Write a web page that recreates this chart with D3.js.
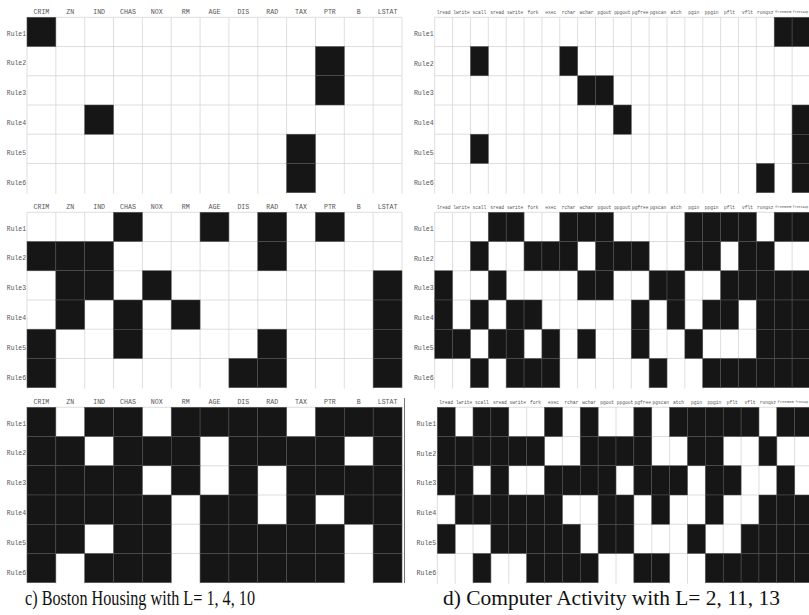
<!DOCTYPE html>
<html><head><meta charset="utf-8">
<script src="https://cdn.jsdelivr.net/npm/d3@7"></script>
<style>body{margin:0;background:#fff}svg{display:block}</style>
</head><body>
<svg id="c" width="809" height="615"></svg>
<script>
const bostonCols = ["CRIM","ZN","IND","CHAS","NOX","RM","AGE","DIS","RAD","TAX","PTR","B","LSTAT"];
const compCols = ["lread","lwrite","scall","sread","swrite","fork","exec","rchar","wchar","pgout","ppgout","pgfree","pgscan","atch","pgin","ppgin","pflt","vflt","runqsz","freemem","freeswap"];
const rules = ["Rule1","Rule2","Rule3","Rule4","Rule5","Rule6"];

const bostonL1 = ["1000000000000","0000000000100","0000000000100","0010000000000","0000000001000","0000000001000"];
const bostonL4 = ["0001001010100","1110000010000","0110100000001","0101010000001","1001000010001","1000000110001"];
const bostonL10 = ["1011011110111","1101110111101","1111010101111","1111101101011","1101101111101","1011101111101"];

const compL2 = ["000000000000000000011","001000010000000000000","000000001100000000000","000000000010000000001","001000000000000000001","000000000000000000101"];
const compL11 = ["000110011100001111011","001001110111001101100","100100001100110011111","101011000001010110111","110110101001001000111","001011100000100111111"];
const compL13 = ["101100101001011111011","111111001111001100100","110100111101110110010","011111100110100100111","100111110110001001111","001001111001100111111"];

const captions = ["c) Boston Housing with L= 1, 4, 10", "d) Computer Activity with L= 2, 11, 13"];

const svg = d3.select("#c");
const monoFont = "Liberation Mono, Courier New, monospace";
const W = 809;

function panel(cols, matrix, x0, y0, w, h, colFont, rowFont) {
  const g = svg.append("g");
  const x = d3.scaleBand().domain(d3.range(cols.length)).range([x0, x0 + w]);
  const y = d3.scaleBand().domain(d3.range(rules.length)).range([y0, y0 + h]);
  const bw = x.bandwidth();
  // grid
  g.selectAll("line.v").data(d3.range(cols.length + 1)).join("line")
    .attr("x1", i => x0 + i * bw).attr("x2", i => x0 + i * bw)
    .attr("y1", y0).attr("y2", y0 + h + 1)
    .attr("stroke", "#d6d6d6").attr("stroke-width", 0.8);
  g.selectAll("line.h").data(d3.range(rules.length)).join("line")
    .attr("x1", x0).attr("x2", Math.min(x0 + w, W))
    .attr("y1", i => y0 + i * y.bandwidth()).attr("y2", i => y0 + i * y.bandwidth())
    .attr("stroke", "#d6d6d6").attr("stroke-width", 0.8);
  // cells
  const cells = [];
  matrix.forEach((row, r) => row.split("").forEach((v, c) => { if (v === "1") cells.push({r, c}); }));
  g.selectAll("rect.cell").data(cells).join("rect")
    .attr("x", d => x(d.c)).attr("y", d => y(d.r))
    .attr("width", bw).attr("height", y.bandwidth())
    .attr("fill", "#161616").attr("stroke", "#555").attr("stroke-width", 0.5);
  // column labels (shrink font when label is wider than the visible cell)
  g.selectAll("text.col").data(cols).join("text")
    .attr("text-anchor", "middle").attr("dominant-baseline", "middle")
    .attr("font-family", monoFont)
    .attr("font-size", colFont).attr("fill", "#555").text(d => d)
    .each(function (d, i) {
      const sel = d3.select(this);
      const left = x(i), right = Math.min(x(i) + bw, W);
      const avail = right - left - 1.5;
      const len = this.getComputedTextLength();
      if (len > avail) sel.attr("font-size", colFont * avail / len);
      sel.attr("x", (left + right) / 2).attr("y", y0 - 5);
    });
  // row labels
  g.selectAll("text.row").data(rules).join("text")
    .attr("x", x0 - 1).attr("y", (d, i) => y(i) + y.bandwidth() / 2 + 2 + i * 0.6)
    .attr("text-anchor", "end").attr("dominant-baseline", "middle")
    .attr("font-family", monoFont)
    .attr("font-size", rowFont).attr("fill", "#555").text(d => d);
}

const H = 175.4;
const tops = [17.3, 212.3, 407.3];
const leftMats = [bostonL1, bostonL4, bostonL10];
const rightMats = [compL2, compL11, compL13];
const rightX = [434.7, 434.7, 437.3];

tops.forEach((t, i) => {
  panel(bostonCols, leftMats[i], 27, t, 375, H, 6.6, 6.4);
});
tops.forEach((t, i) => {
  panel(compCols, rightMats[i], rightX[i], t, 21 * 17.87, H, 4.6, 6.6);
});

// left border line of the bottom-right image
svg.append("line").attr("x1", 404.5).attr("x2", 404.5).attr("y1", 398).attr("y2", 583)
  .attr("stroke", "#777").attr("stroke-width", 1);

// captions
svg.append("text").attr("x", 25).attr("y", 605)
  .attr("font-family", "Liberation Serif, Times New Roman, serif").attr("font-size", 20)
  .attr("textLength", 230).attr("lengthAdjust", "spacingAndGlyphs")
  .attr("fill", "#111").text(captions[0]);
svg.append("text").attr("x", 443).attr("y", 605)
  .attr("font-family", "Liberation Serif, Times New Roman, serif").attr("font-size", 20)
  .attr("textLength", 337).attr("lengthAdjust", "spacingAndGlyphs")
  .attr("fill", "#111").text(captions[1]);
</script>
</body></html>
